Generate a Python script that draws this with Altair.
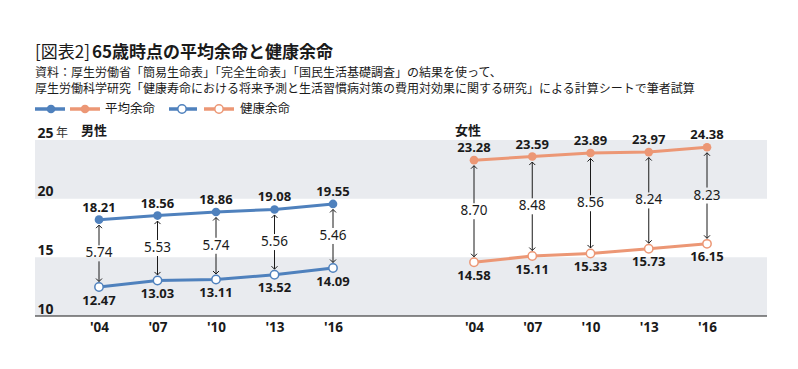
import altair as alt
import pandas as pd

# ---- data ----
years = ["'04", "'07", "'10", "'13", "'16"]
male_avg = [18.21, 18.56, 18.86, 19.08, 19.55]
male_healthy = [12.47, 13.03, 13.11, 13.52, 14.09]
male_gap = [5.74, 5.53, 5.74, 5.56, 5.46]
female_avg = [23.28, 23.59, 23.89, 23.97, 24.38]
female_healthy = [14.58, 15.11, 15.33, 15.73, 16.15]
female_gap = [8.70, 8.48, 8.56, 8.24, 8.23]
y_ticks = [25, 20, 15, 10]
band_lo = [20, 10]
band_hi = [25, 15]
panel_names = ["男性", "女性"]
series_names = ["平均余命", "健康余命"]
unit = "年"
title_prefix = "[図表2]"
title_main = "65歳時点の平均余命と健康余命"
source_lines = [
    "資料：厚生労働省「簡易生命表」「完全生命表」「国民生活基礎調査」の結果を使って、",
    "厚生労働科学研究「健康寿命における将来予測と生活習慣病対策の費用対効果に関する研究」による計算シートで筆者試算",
]

# ---- style ----
BLUE = "#4f81bd"
ORANGE = "#ec9775"
BAND = "#e9ebef"
INK = "#1a1a1a"
JP = "Noto Sans CJK JP"
NUM = "Noto Sans"
H = 176
one = pd.DataFrame({"k": [0]})


def txt(t, x, y, size, weight="normal", font=JP, baseline="alphabetic", color=INK):
    return alt.Chart(one).mark_text(
        text=t, align="left", baseline=baseline, font=font,
        fontSize=size, fontWeight=weight, color=color,
    ).encode(x=alt.value(x), y=alt.value(y))


def leg_rule(x1, x2, color):
    return alt.Chart(one).mark_rule(color=color, strokeWidth=3.5).encode(
        x=alt.value(x1), x2=alt.value(x2), y=alt.value(-31))


def leg_dot(x, color, hollow):
    if hollow:
        m = alt.Chart(one).mark_point(shape="circle", filled=True, fill="white",
                                      stroke=color, strokeWidth=1.5, size=70, opacity=1)
    else:
        m = alt.Chart(one).mark_point(shape="circle", filled=True, color=color,
                                      size=75, opacity=1)
    return m.encode(x=alt.value(x), y=alt.value(-31))


def panel(name, name_x, avg, healthy, gap, color, width, x_range, left):
    df = pd.DataFrame({"year": years, "avg": avg, "healthy": healthy, "gap": gap})
    df["mid"] = (df["avg"] + df["healthy"]) / 2
    xs = alt.Scale(type="point", domain=years, range=x_range, padding=0)
    ys = alt.Scale(domain=[10, 25], nice=False, zero=False)
    X = alt.X("year:N", scale=xs, title=None,
              axis=alt.Axis(domain=False, ticks=False, grid=False, labelPadding=4,
                            labelFont=NUM, labelFontSize=13.5, labelFontWeight="bold",
                            labelColor=INK, labelAngle=0))
    if left:
        yax = alt.Axis(values=y_ticks, domain=False, ticks=False, grid=False,
                       labelAlign="left", labelBaseline="alphabetic", labelPadding=-2,
                       labelOffset=-3, labelFont=NUM, labelFontSize=14,
                       labelOverlap=False, labelFlush=False, zindex=2,
                       labelFontWeight="bold", labelColor=INK, title=None)
    else:
        yax = None

    def Y(field):
        return alt.Y(field, scale=ys, axis=yax, title=None)

    base = alt.Chart(df)

    bands = alt.Chart(pd.DataFrame({"lo": band_lo, "hi": band_hi})).mark_rect(
        color=BAND, strokeWidth=0).encode(x=alt.value(0), x2=alt.value(width),
                                          y=Y("lo:Q"), y2="hi:Q")
    baseline = alt.Chart(pd.DataFrame({"v": [10]})).mark_rule(
        color=INK, strokeWidth=1.2).encode(
        x=alt.value(0), x2=alt.value(width), y=Y("v:Q"))
    line_avg = base.mark_line(color=color, strokeWidth=3).encode(x=X, y=Y("avg:Q"))
    line_h = base.mark_line(color=color, strokeWidth=3).encode(x=X, y=Y("healthy:Q"))
    seg_top = base.mark_rule(color=INK, strokeWidth=1, yOffset=5.5, y2Offset=-8).encode(
        x=X, y=Y("avg:Q"), y2="mid:Q")
    seg_bot = base.mark_rule(color=INK, strokeWidth=1, yOffset=8, y2Offset=-5.5).encode(
        x=X, y=Y("mid:Q"), y2="healthy:Q")
    head_up = base.mark_point(shape="M-1,1L0,0L1,1", filled=False, color=INK,
                              strokeWidth=1, size=36, yOffset=5.5, opacity=1).encode(
        x=X, y=Y("avg:Q"))
    head_dn = base.mark_point(shape="M-1,-1L0,0L1,-1", filled=False, color=INK,
                              strokeWidth=1, size=36, yOffset=-5.5, opacity=1).encode(
        x=X, y=Y("healthy:Q"))
    pt_avg = base.mark_point(shape="circle", filled=True, color=color, size=75,
                             opacity=1).encode(x=X, y=Y("avg:Q"))
    pt_h = base.mark_point(shape="circle", filled=True, fill="white", stroke=color,
                           strokeWidth=1.5, size=70, opacity=1).encode(
        x=X, y=Y("healthy:Q"))
    lab_avg = base.mark_text(font=NUM, fontSize=13, fontWeight="bold", color=INK,
                             baseline="middle", dy=-12).encode(
        x=X, y=Y("avg:Q"), text=alt.Text("avg:Q", format=".2f"))
    lab_h = base.mark_text(font=NUM, fontSize=13, fontWeight="bold", color=INK,
                           baseline="middle", dy=13.5).encode(
        x=X, y=Y("healthy:Q"), text=alt.Text("healthy:Q", format=".2f"))
    lab_gap = base.mark_text(font=NUM, fontSize=13.5, color=INK,
                             baseline="middle").encode(
        x=X, y=Y("mid:Q"), text=alt.Text("gap:Q", format=".2f"))
    ptitle = txt(name, name_x, -5, 13, "bold")

    layers = [bands, baseline, line_avg, line_h, seg_top, seg_bot, head_up, head_dn,
              pt_avg, pt_h, lab_avg, lab_h, lab_gap, ptitle]
    if left:
        layers += [
            alt.Chart(pd.DataFrame({"v": [y_ticks[0]]})).mark_text(
                text=unit, align="left", baseline="alphabetic", dy=-3, font=JP,
                fontSize=12, color="#333").encode(
                x=alt.value(21), y=Y("v:Q")),
            txt(title_prefix, 0, -82, 17),
            txt(title_main, 57, -82, 17, "bold"),
            txt(source_lines[0], 0, -63, 12),
            txt(source_lines[1], 0, -47, 12),
            leg_rule(0, 30, BLUE), leg_dot(16, BLUE, False),
            leg_rule(35, 65, ORANGE), leg_dot(50, ORANGE, False),
            txt(series_names[0], 70, -31, 12.5, baseline="middle"),
            leg_rule(134, 162, BLUE), leg_dot(147, BLUE, True),
            leg_rule(169, 199, ORANGE), leg_dot(184, ORANGE, True),
            txt(series_names[1], 205, -31, 12.5, baseline="middle"),
        ]
    return alt.layer(*layers).properties(width=width, height=H)


left = panel(panel_names[0], 46, male_avg, male_healthy, male_gap, BLUE, 387, [64, 298], True)
right = panel(panel_names[1], 33, female_avg, female_healthy, female_gap, ORANGE, 345, [52, 285], False)

chart = alt.hconcat(left, right, spacing=0, bounds="flush").properties(
    padding={"left": 25, "top": 36, "right": 5, "bottom": 5}
).configure_view(stroke=None).configure_axis(domain=False, ticks=False, grid=False)

chart.save("out.html", embed_options={"renderer": "svg", "actions": False})
